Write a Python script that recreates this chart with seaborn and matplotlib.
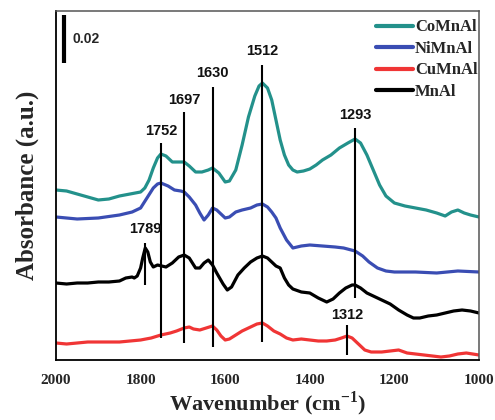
import numpy as np
import pandas as pd
import matplotlib
matplotlib.use("Agg")
import matplotlib.pyplot as plt
import seaborn as sns

# ---- data (heights in arbitrary absorbance units; 48 units = 0.02) ----
co_wn = [2000, 1975, 1950, 1925, 1900, 1875, 1850, 1825, 1800, 1790, 1780, 1770, 1760, 1752, 1740, 1725,
         1710, 1697, 1685, 1670, 1655, 1640, 1630, 1615, 1600, 1590, 1575, 1560, 1545, 1530, 1520, 1512,
         1500, 1490, 1480, 1470, 1460, 1450, 1440, 1430, 1415, 1400, 1385, 1370, 1350, 1330, 1310, 1293,
         1280, 1265, 1250, 1235, 1220, 1200, 1175, 1150, 1125, 1100, 1080, 1065, 1050, 1035, 1020, 1000]
co_y = [170, 169, 166, 163, 160, 161, 164, 166, 168, 172, 180, 192, 202, 206, 204, 198,
        198, 198, 194, 188, 188, 190, 192, 187, 178, 179, 190, 215, 243, 264, 274, 277,
        272, 260, 240, 220, 205, 195, 190, 188, 189, 191, 195, 200, 205, 212, 217, 221,
        217, 205, 190, 175, 164, 157, 154, 152, 150, 147, 144, 148, 150, 147, 145, 143]

ni_wn = [2000, 1950, 1900, 1850, 1820, 1800, 1785, 1770, 1760, 1752, 1735, 1720, 1705, 1697, 1685, 1670,
         1660, 1650, 1640, 1630, 1620, 1610, 1600, 1590, 1575, 1560, 1540, 1525, 1512, 1500, 1490, 1480,
         1470, 1455, 1440, 1420, 1400, 1370, 1340, 1320, 1293, 1275, 1260, 1240, 1220, 1200, 1150, 1100,
         1050, 1000]
ni_y = [143, 141, 142, 145, 148, 152, 162, 172, 176, 177, 174, 170, 169, 168, 163, 155,
        147, 140, 145, 152, 150, 146, 142, 143, 148, 150, 152, 155, 156, 153, 148, 142,
        132, 120, 112, 114, 115, 114, 113, 112, 109, 104, 98, 92, 89, 88, 88, 87,
        89, 88]

mn_wn = [2000, 1975, 1950, 1925, 1900, 1875, 1850, 1835, 1820, 1815, 1808, 1800, 1795, 1789, 1783, 1777,
         1770, 1760, 1750, 1740, 1725, 1710, 1697, 1685, 1670, 1660, 1650, 1640, 1630, 1620, 1605,
         1595, 1585, 1570, 1555, 1540, 1525, 1512, 1500, 1490, 1480, 1470, 1460, 1450, 1440, 1420, 1400,
         1380, 1360, 1345, 1330, 1315, 1300, 1293, 1280, 1265, 1250, 1230, 1210, 1190, 1170, 1155, 1140,
         1120, 1100, 1080, 1060, 1040, 1020, 1000]
mn_y = [77, 76, 77, 77, 78, 78, 79, 82, 83, 82, 84, 92, 102, 112, 108, 98,
        93, 95, 94, 93, 97, 103, 105, 102, 92, 92, 97, 100, 95, 87, 76,
        70, 73, 85, 92, 98, 102, 104, 102, 98, 94, 92, 82, 75, 71, 68, 67,
        62, 58, 61, 67, 72, 75, 75, 72, 67, 64, 60, 56, 50, 45, 42, 42,
        44, 45, 47, 49, 50, 49, 47]

cu_wn = [2000, 1975, 1950, 1925, 1900, 1875, 1850, 1825, 1800, 1775, 1752, 1730, 1715, 1697, 1685, 1675,
         1660, 1645, 1630, 1620, 1610, 1600, 1590, 1575, 1560, 1540, 1525, 1512, 1500, 1485, 1470, 1455,
         1440, 1420, 1400, 1380, 1360, 1340, 1325, 1312, 1300, 1285, 1270, 1255, 1230, 1210, 1190, 1170,
         1150, 1130, 1110, 1090, 1070, 1050, 1030, 1015, 1000]
cu_y = [17, 16, 17, 18, 18, 18, 18, 19, 20, 22, 25, 27, 29, 32, 33, 31,
        30, 32, 34, 30, 24, 20, 21, 25, 29, 33, 36, 37, 34, 29, 26, 22,
        20, 21, 20, 19, 19, 20, 22, 24, 22, 16, 10, 8, 8, 9, 10, 7,
        6, 5, 4, 3, 4, 6, 7, 6, 5]

series = ["CoMnAl", "NiMnAl", "CuMnAl", "MnAl"]
colors = ["#23918b", "#3a4db3", "#f03535", "#000000"]

# peak markers: position, line bottom, line top, label height
peak_pos = [1789, 1752, 1697, 1630, 1512, 1293, 1312]
peak_lo = [75, 22, 17, 13, 18, 62, 5]
peak_hi = [117, 217, 248, 273, 295, 232, 35]
peak_lbl = [124, 222, 253, 280, 302, 238, 38]

scale_len = 48
scale_label = "0.02"

# ---- figure ----
sns.set_theme(style="white")
plt.rcParams["mathtext.fontset"] = "custom"
plt.rcParams["mathtext.bf"] = "Liberation Serif:bold"
plt.rcParams["mathtext.rm"] = "Liberation Serif:bold"

frames = []
for name, wn, y in [("CoMnAl", co_wn, co_y), ("NiMnAl", ni_wn, ni_y),
                    ("CuMnAl", cu_wn, cu_y), ("MnAl", mn_wn, mn_y)]:
    frames.append(pd.DataFrame({"wn": wn, "A": y, "sample": name}))
df = pd.concat(frames, ignore_index=True)

fig = plt.figure(figsize=(4.95, 4.2), dpi=100)
ax = fig.add_axes([56 / 495, 60 / 420, 423 / 495, 349 / 420])

sns.lineplot(data=df, x="wn", y="A", hue="sample", hue_order=series,
             palette=colors, linewidth=2.3, ax=ax, sort=False, estimator=None)
for ln in ax.get_lines():
    ln.set_solid_joinstyle("round")
    ln.set_solid_capstyle("round")

ax.set_xlim(2000, 1000)
ax.set_ylim(0, 349)

# peak lines and labels
ax.vlines(peak_pos, peak_lo, peak_hi, colors="black", linewidth=1.5)
for p, ly in zip(peak_pos, peak_lbl):
    ax.text(p, ly, str(p), ha="center", va="bottom", fontsize=10.5,
            fontweight="bold", family="Liberation Sans", color="#111111")

# scale bar
ax.vlines([1981], 349 - 4 - scale_len, 349 - 4, colors="black", linewidth=3)
ax.text(1962, 349 - 4 - scale_len / 2, scale_label, ha="left", va="center",
        fontsize=10, fontweight="bold", family="Liberation Sans")

ax.set_xticks([2000, 1800, 1600, 1400, 1200, 1000])
ax.set_xticklabels(["2000", "1800", "1600", "1400", "1200", "1000"],
                   fontsize=11, fontweight="bold", family="Liberation Serif")
ax.set_yticks([])
ax.tick_params(axis="x", length=0, pad=10)

ax.set_xlabel(r"Wavenumber (cm$^{\mathbf{-1}}$)", fontsize=16, fontweight="bold",
              family="Liberation Serif", labelpad=2)
ax.set_ylabel("Absorbance (a.u.)", fontsize=18, fontweight="bold",
              family="Liberation Serif", labelpad=12)

for s in ["left", "bottom"]:
    ax.spines[s].set_color("black")
    ax.spines[s].set_linewidth(1.3)
for s in ["top", "right"]:
    ax.spines[s].set_color("#555555")
    ax.spines[s].set_linewidth(1.1)

leg = ax.legend(loc="upper right", frameon=False, handlelength=2.2,
                handletextpad=0.1, labelspacing=0.33, borderaxespad=0.0,
                bbox_to_anchor=(1.012, 0.995),
                prop={"family": "Liberation Serif", "weight": "bold", "size": 12})
for line in leg.get_lines():
    line.set_linewidth(3)

fig.savefig("out.png", dpi=100)
